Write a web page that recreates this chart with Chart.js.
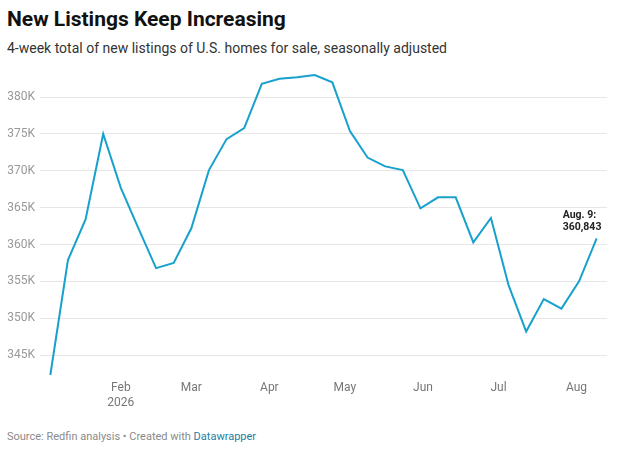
<!DOCTYPE html>
<html>
<head>
<meta charset="utf-8">
<script src="https://cdn.jsdelivr.net/npm/chart.js@4/dist/chart.umd.min.js"></script>
<style>
  html, body { margin: 0; padding: 0; background: #fff; }
  body { width: 617px; height: 453px; position: relative; overflow: hidden; font-family: Roboto, "Noto Sans", sans-serif; }
  .title { position: absolute; left: 7px; top: 9px; font-size: 21px; line-height: 21px; font-weight: 700; color: #111; white-space: nowrap; }
  .subtitle { position: absolute; left: 7px; top: 41px; font-size: 14px; line-height: 14px; color: #333; white-space: nowrap; }
  .wrap { position: absolute; left: 0; top: 60px; width: 617px; height: 360px; }
  .footer { position: absolute; left: 7px; top: 431px; font-size: 11px; line-height: 11px; color: #8a8a8a; white-space: nowrap; }
  .footer a { color: #1d81a2; text-decoration: none; }
</style>
</head>
<body>
<div class="title">New Listings Keep Increasing</div>
<div class="subtitle">4-week total of new listings of U.S. homes for sale, seasonally adjusted</div>
<div class="wrap"><canvas id="chart" width="617" height="360"></canvas></div>
<div class="footer">Source: Redfin analysis • Created with <a>Datawrapper</a></div>

<script>
(() => {
  // weekly, week ending (Sundays)
  const startDate = "2026-01-04";
  const weekCount = 32;
  const listings = [
    342300, 357900, 363400, 375000, 367700, 362200, 356800, 357500,
    362200, 370100, 374300, 375800, 381800, 382500, 382700, 383000,
    382000, 375400, 371800, 370600, 370100, 364900, 366400, 366400,
    360300, 363600, 354500, 348200, 352600, 351300, 355000, 360843
  ];
  const yTicks = [345000, 350000, 355000, 360000, 365000, 370000, 375000, 380000];
  const monthTickDates = ["2026-02-01", "2026-03-01", "2026-04-01", "2026-05-01", "2026-06-01", "2026-07-01", "2026-08-01"];
  const monthTickLabels = [["Feb", "2026"], "Mar", "Apr", "May", "Jun", "Jul", "Aug"];
  const lastLabel = ["Aug. 9:", "360,843"];

  const DAY = 86400000;
  const t0 = Date.parse(startDate + "T00:00:00Z");
  const dayOf = (s) => Math.round((Date.parse(s + "T00:00:00Z") - t0) / DAY);

  const points = listings.map((v, i) => ({ x: i * 7, y: v }));
  const lastDay = (weekCount - 1) * 7;

  const annotate = {
    id: "annotate",
    afterDatasetsDraw(chart) {
      const { ctx, scales } = chart;
      const p = points[points.length - 1];
      const px = scales.x.getPixelForValue(p.x);
      const py = scales.y.getPixelForValue(p.y);
      ctx.save();
      ctx.font = "bold 10.5px Roboto, sans-serif";
      ctx.fillStyle = "#222";
      ctx.textAlign = "left";
      ctx.textBaseline = "middle";
      ctx.fillText(lastLabel[0], px - 34, py - 83 + 60);
      ctx.fillText(lastLabel[1], px - 34, py - 70.5 + 60);
      ctx.restore();
    }
  };

  new Chart(document.getElementById("chart"), {
    type: "line",
    data: {
      datasets: [{
        data: points,
        borderColor: "#18a1cd",
        borderWidth: 2,
        pointRadius: 0,
        tension: 0,
        fill: false,
        clip: false
      }]
    },
    options: {
      responsive: false,
      animation: false,
      layout: { padding: { top: 15, right: 10, left: 0, bottom: 0 } },
      plugins: { legend: { display: false }, tooltip: { enabled: false } },
      scales: {
        x: {
          type: "linear",
          min: -4.1,
          max: lastDay + 4.1,
          afterFit: (s) => { s.height = 45; },
          afterBuildTicks: (s) => { s.ticks = monthTickDates.map(d => ({ value: dayOf(d) })); },
          grid: { display: false, drawTicks: false },
          border: { display: false },
          ticks: {
            autoSkip: false,
            maxRotation: 0,
            padding: 6,
            color: "#777",
            font: { family: "Roboto", size: 12, lineHeight: 1.2 },
            callback: (v) => monthTickLabels[monthTickDates.map(dayOf).indexOf(v)]
          }
        },
        y: {
          min: 342300,
          max: 383000,
          afterFit: (s) => { s.width = 40; },
          afterBuildTicks: (s) => { s.ticks = yTicks.map(v => ({ value: v })); },
          grid: { color: "#e6e6e6", lineWidth: 1, drawTicks: false },
          border: { display: false },
          ticks: {
            padding: 5,
            color: "#999",
            font: { family: "Roboto", size: 12 },
            callback: (v) => (v / 1000) + "K"
          }
        }
      }
    },
    plugins: [annotate]
  });
})();
</script>
</body>
</html>
